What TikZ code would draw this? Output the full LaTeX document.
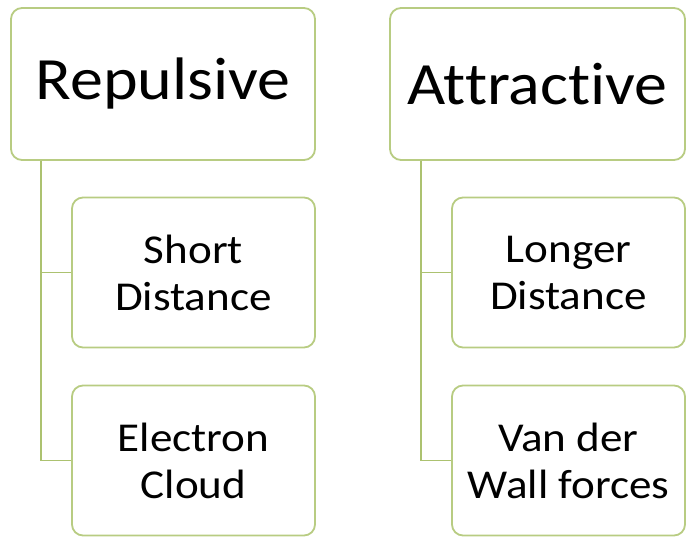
\documentclass[tikz,border=0pt]{standalone}
\usepackage{fontspec}
\setmainfont{Carlito}[FakeStretch=1.1, Ligatures=NoCommon]
\usetikzlibrary{calc, positioning}

\definecolor{boxline}{RGB}{184,204,130}
\definecolor{linkline}{RGB}{172,194,112}

\tikzset{
  headbox/.style={draw=boxline, line width=1.8pt, rounded corners=11pt,
    fill=white, inner sep=0pt, minimum height=152pt, align=center,
    font=\fontsize{60}{66}\selectfont},
  itembox/.style={draw=boxline, line width=1.8pt, rounded corners=11pt,
    fill=white, inner sep=0pt, minimum height=150pt, minimum width=233pt,
    align=center, font=\fontsize{41}{47}\selectfont},
  link/.style={draw=linkline, line width=1.8pt}
}

\begin{document}
\begin{tikzpicture}[x=1pt, y=1pt]
\useasboundingbox (0,0) rectangle (686,-538);

\node[headbox, minimum width=304pt] (rep) at (163,-84) {Repulsive};
\node[headbox, minimum width=295pt] (att) at (537.5,-84) {Attractive};

\node[itembox, minimum width=243pt] (short) at (193.5,-272.5) {Short\\Distance};
\node[itembox, minimum width=243pt] (elec)  at (193.5,-460.5) {Electron\\Cloud};
\node[itembox] (longer) at (568.5,-272.5) {Longer\\Distance};
\node[itembox] (vdw)    at (568.5,-460.5) {Van der\\Wall forces};

% trunks under the two heads
\coordinate (repT) at ($(rep.south west)+(31,0)$);
\coordinate (attT) at ($(att.south west)+(32,0)$);

\draw[link] (repT) |- (short.west);
\draw[link] (repT) |- (elec.west);
\draw[link] (attT) |- (longer.west);
\draw[link] (attT) |- (vdw.west);
\end{tikzpicture}
\end{document}
